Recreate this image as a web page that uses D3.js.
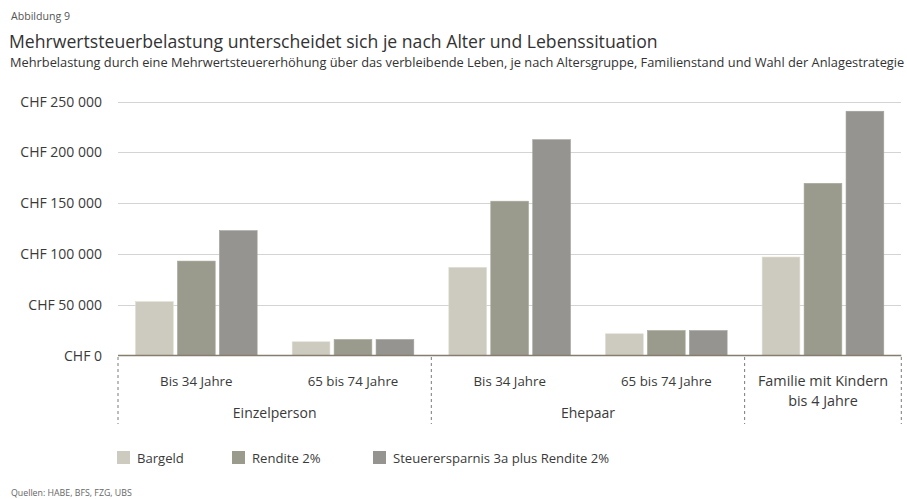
<!DOCTYPE html>
<html><head><meta charset="utf-8">
<script src="https://cdn.jsdelivr.net/npm/d3@7"></script>
<style>
body{margin:0;background:#fff;}
svg{display:block;font-family:"Open Sans",sans-serif;}
</style></head>
<body><svg id="c" width="907" height="499"></svg>
<script>
const groups = ["Einzelperson","Einzelperson","Ehepaar","Ehepaar","Familie"];
const categories = ["Bis 34 Jahre","65 bis 74 Jahre","Bis 34 Jahre","65 bis 74 Jahre","Familie mit Kindern|bis 4 Jahre"];
const groupLabels = ["Einzelperson","Ehepaar"];
const series = ["Bargeld","Rendite 2%","Steuerersparnis 3a plus Rendite 2%"];
const bargeld = [53000, 13500, 86800, 21400, 97000];
const rendite = [93000, 15800, 152000, 24600, 169600];
const steuer = [123000, 15800, 212600, 24600, 240600];
const yTicks = [0, 50000, 100000, 150000, 200000, 250000];
const colors = ["#cdcbbf","#9a9a8d","#959490"];
const values = [bargeld, rendite, steuer];

const svg = d3.select("#c");
const txt = "#3a3a3a";
const fit = (sel, w) => { const n = sel.node(); const l = n.getComputedTextLength(); const fs = parseFloat(sel.attr("font-size")); sel.attr("font-size", fs * w / l); };

fit(svg.append("text").attr("x",11).attr("y",20).attr("font-size",10).attr("fill","#555").text("Abbildung 9"), 59);
fit(svg.append("text").attr("x",9).attr("y",48).attr("font-size",20).attr("fill","#333").text("Mehrwertsteuerbelastung unterscheidet sich je nach Alter und Lebenssituation"), 649);
fit(svg.append("text").attr("x",10).attr("y",67).attr("font-size",13).attr("fill","#333").text("Mehrbelastung durch eine Mehrwertsteuererhöhung über das verbleibende Leben, je nach Altersgruppe, Familienstand und Wahl der Anlagestrategie"), 895);

const x0 = d3.scaleBand().domain(d3.range(categories.length)).range([118, 901.3]).padding(0);
const x1 = d3.scaleBand().domain(d3.range(series.length)).range([17.5, x0.bandwidth()-17.5]).paddingInner(0.1).paddingOuter(0);
const y = d3.scaleLinear().domain([0, 250000]).range([355.5, 101.7]);

// gridlines
svg.append("g").selectAll("line").data(yTicks.filter(d=>d>0)).join("line")
  .attr("x1",118).attr("x2",901).attr("y1",d=>Math.round(y(d))+0.5).attr("y2",d=>Math.round(y(d))+0.5)
  .attr("stroke","#d4d4d4").attr("stroke-width",1.2);

// y axis labels
const fmt = d => "CHF " + (d===0 ? "0" : d3.format(",")(d).replace(/,/g," "));
svg.append("g").selectAll("text").data(yTicks).join("text")
  .attr("x",102).attr("y",d=>y(d)+5).attr("text-anchor","end").attr("font-size",14).attr("fill",txt).text(fmt);

// bars
const g = svg.append("g");
categories.forEach((c,i)=>{
  series.forEach((s,j)=>{
    g.append("rect").attr("x",x0(i)+x1(j)).attr("width",x1.bandwidth())
      .attr("y",y(values[j][i])).attr("height",y(0)-y(values[j][i]))
      .attr("fill",colors[j]).attr("stroke", d3.color(colors[j]).brighter(0.25)).attr("stroke-width",0.6);
  });
});

// baseline
svg.append("line").attr("x1",118).attr("x2",901.3).attr("y1",y(0)).attr("y2",y(0)).attr("stroke","#857d6e").attr("stroke-width",1.5);

// separators
[0,2,4,5].forEach(i=>{
  const xx = i<5 ? x0(i) : x0(4)+x0.bandwidth();
  svg.append("line").attr("x1",xx).attr("x2",xx).attr("y1",357).attr("y2",424)
    .attr("stroke","#7a7a7a").attr("stroke-width",1).attr("stroke-dasharray","3,3");
});

// category labels
categories.forEach((c,i)=>{
  const parts = c.split("|");
  const fs = parts.length>1 ? 14.4 : 13.3;
  parts.forEach((p,k)=>{
    svg.append("text").attr("x",x0(i)+x0.bandwidth()/2).attr("y",386+k*20).attr("text-anchor","middle")
      .attr("font-size",fs).attr("fill",txt).text(p);
  });
});
groupLabels.forEach((gl,k)=>{
  const xs = x0(2*k), xe = x0(2*k+1)+x0.bandwidth();
  svg.append("text").attr("x",(xs+xe)/2).attr("y",418).attr("text-anchor","middle").attr("font-size",14).attr("fill",txt).text(gl);
});

// legend
const legX = [117, 232, 373];
series.forEach((s,j)=>{
  svg.append("rect").attr("x",legX[j]).attr("y",451).attr("width",13).attr("height",13).attr("fill",colors[j]);
  svg.append("text").attr("x",legX[j]+20).attr("y",463).attr("font-size",13.1).attr("fill",txt).text(s);
});

svg.append("text").attr("x",11).attr("y",496).attr("font-size",8.8).attr("fill","#666").text("Quellen: HABE, BFS, FZG, UBS");
</script></body></html>
